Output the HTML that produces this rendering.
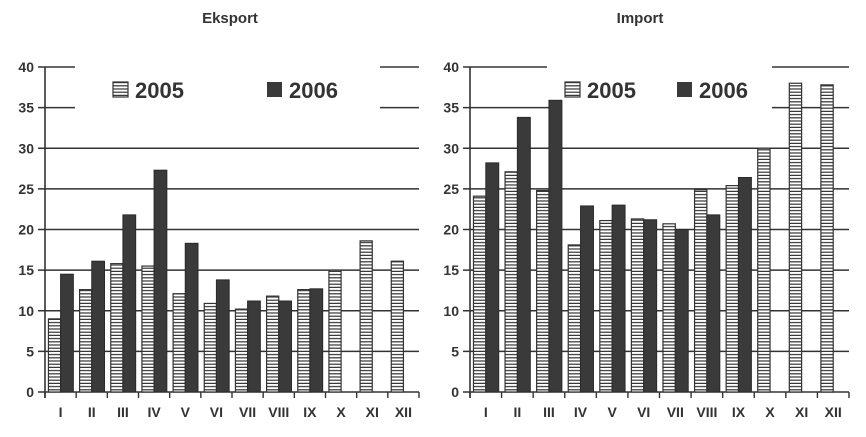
<!DOCTYPE html>
<html><head><meta charset="utf-8"><style>
html,body{margin:0;padding:0;background:#fff;}
svg{display:block;font-family:"Liberation Sans",Arial,sans-serif;}
</style></head><body>
<svg id="c" width="866" height="437" viewBox="0 0 866 437">
<defs>
<pattern id="hs" patternUnits="userSpaceOnUse" width="4" height="3.2">
<rect width="4" height="3.2" fill="#fff"/><rect y="2" width="4" height="1.2" fill="#333"/>
</pattern>
</defs>
</svg>
<script>
const months = ["I","II","III","IV","V","VI","VII","VIII","IX","X","XI","XII"];
const yTicks = [0,5,10,15,20,25,30,35,40];
const export2005 = [9,12.6,15.8,15.5,12.1,10.9,10.2,11.8,12.6,15,18.6,16.1];
const export2006 = [14.5,16.1,21.8,27.3,18.3,13.8,11.2,11.2,12.7,null,null,null];
const import2005 = [24.1,27.1,24.8,18.1,21.1,21.3,20.7,24.9,25.4,30,38,37.8];
const import2006 = [28.2,33.8,35.9,22.9,23,21.2,20,21.8,26.4,null,null,null];

const svg = document.getElementById('c');
const NS = 'http://www.w3.org/2000/svg';
function mk(tag, attrs, parent){const e=document.createElementNS(NS,tag);for(const k in attrs)e.setAttribute(k,attrs[k]);(parent||svg).appendChild(e);return e;}

function panel(cfg){
  const g = mk('g',{});
  
  
  const y0=392, y40=67;
  const y = v => y0 - (v/40)*(y0-y40);
  const step = (cfg.x1-cfg.x0)/12;
  const x = i => cfg.x0 + i*step;
  const t = mk('text',{x:cfg.titleX,y:23,'text-anchor':'middle','font-size':15,'font-weight':'bold',fill:'#333'},g);
  t.textContent = cfg.title;
  
  
  yTicks.forEach(v=>{
    const l = mk('line',{x1:cfg.x0-7,x2:cfg.x1,y1:y(v),y2:y(v),stroke:'#333','stroke-width':1.6},g);
    
    
    const tx = mk('text',{x:cfg.x0-11,y:y(v)+5,'text-anchor':'end','font-size':14,'font-weight':'bold',fill:'#333'},g);
    tx.textContent = v;
    
    
  });
  cfg.covers.forEach(c=>{ mk('rect',{x:c[0],y:c[1],width:c[2],height:c[3],fill:'#fff'},g); });
  mk('line',{x1:cfg.x0,x2:cfg.x0,y1:y40,y2:y0+6,stroke:'#333','stroke-width':1.6},g);
  for(let i=0;i<=12;i++) mk('line',{x1:x(i),x2:x(i),y1:y0,y2:y0+6,stroke:'#333','stroke-width':1.4},g);
  const bw = step*0.39, off = step*0.11;
  months.forEach((m,i)=>{
    const a = cfg.s05[i];
    if(a!=null){
      const r = mk('rect',{x:x(i)+off,y:y(a),width:bw,height:y0-y(a),fill:'url(#hs)',stroke:'#333','stroke-width':1.2},g);
      
      
    }
    const b = cfg.s06[i];
    if(b!=null){
      const r = mk('rect',{x:x(i)+off+bw,y:y(b),width:bw*1.05,height:y0-y(b),fill:'#3a3a3a',stroke:'#2a2a2a','stroke-width':1},g);
      
      
    }
    const tx = mk('text',{x:x(i)+step/2,y:417,'text-anchor':'middle','font-size':14,'font-weight':'bold',fill:'#333'},g);
    tx.textContent = m;
    
    
  });
  const L = cfg.legend;
  const lr1 = mk('rect',{x:L[0],y:82,width:15,height:15,fill:'url(#hs)',stroke:'#333','stroke-width':1.2},g);
  
  
  const lt1 = mk('text',{x:L[0]+22,y:98,'font-size':22,'font-weight':'bold',fill:'#333'},g);
  lt1.textContent='2005';
  
  
  const lr2 = mk('rect',{x:L[1],y:82,width:15,height:15,fill:'#3a3a3a'},g);
  
  
  const lt2 = mk('text',{x:L[1]+22,y:98,'font-size':22,'font-weight':'bold',fill:'#333'},g);
  lt2.textContent='2006';
  
  
}
panel({name:'export-panel',title:'Eksport',titleX:230,x0:45,x1:419,s05:export2005,s06:export2006,
  covers:[[75,60,305,50]],legend:[113,267]});
panel({name:'import-panel',title:'Import',titleX:640,x0:470,x1:849,s05:import2005,s06:import2006,
  covers:[[547,60,225,12],[560,72,212,40]],legend:[565,677]});
</script>
</body></html>
